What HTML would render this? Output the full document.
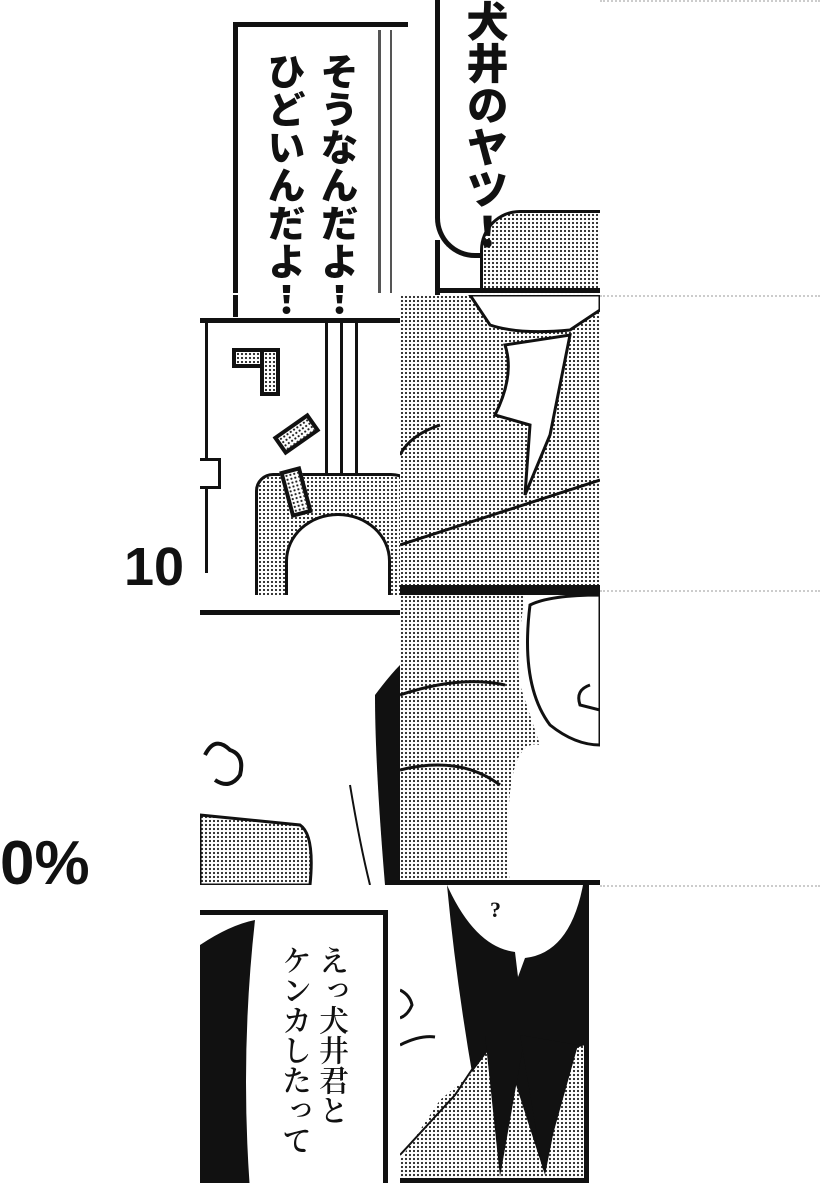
<!DOCTYPE html>
<html><head><meta charset="utf-8"><style>
body{margin:0;width:820px;height:1200px;background:#fff;position:relative;overflow:hidden}
.a{position:absolute}
.t{background-color:#fff;background-image:radial-gradient(#222 0.9px,transparent 1.3px);background-size:4px 4px}
.v{position:absolute;writing-mode:vertical-rl;font-family:"Liberation Sans","Noto Sans CJK JP",sans-serif;font-weight:900;color:#111;line-height:1}
</style></head><body>
<svg width="0" height="0" style="position:absolute"><defs>
<pattern id="dt" width="4" height="4" patternUnits="userSpaceOnUse"><rect width="4" height="4" fill="#fff"/><circle cx="2" cy="2" r="1.1" fill="#222"/></pattern>
</defs></svg>
<div class="a" style="left:600px;top:0;width:220px;height:2px;border-top:2px dotted #ccc"></div>
<div class="a" style="left:600px;top:295px;width:220px;height:2px;border-top:2px dotted #ccc"></div>
<div class="a" style="left:600px;top:590px;width:220px;height:2px;border-top:2px dotted #ccc"></div>
<div class="a" style="left:600px;top:885px;width:220px;height:2px;border-top:2px dotted #ccc"></div>

<!-- Row1 left -->
<div class="a" style="left:233px;top:22px;width:170px;height:290px;border-left:5px solid #111;border-top:5px solid #111"></div>
<div class="a" style="left:378px;top:30px;width:3px;height:265px;background:#555"></div>
<div class="a" style="left:390px;top:30px;width:2px;height:265px;background:#555"></div>
<div class="v" style="left:316px;top:52px;font-size:38px">そうなんだよ！</div>
<div class="v" style="left:263px;top:52px;font-size:38px">ひどいんだよ！</div>
<div class="a" style="left:200px;top:293px;width:200px;height:2px;background:#fff"></div>

<!-- Row1 right -->
<div class="a" style="left:400px;top:0;width:200px;height:295px;overflow:hidden">
 <div class="a t" style="left:80px;top:190px;width:130px;height:110px"></div>
 <div class="a" style="left:35px;top:-10px;width:200px;height:258px;background:#fff;border:5px solid #111;border-right:none;border-radius:0 0 0 40px"></div>
 <div class="a t" style="left:80px;top:210px;width:120px;height:80px;border-radius:40px 0 0 0;border-top:3px solid #111;border-left:3px solid #111"></div>
 <div class="a" style="left:35px;top:240px;width:5px;height:55px;background:#111"></div>
 <div class="a" style="left:35px;top:288px;width:165px;height:5px;background:#111"></div>
</div>
<div class="v" style="left:463px;top:0px;font-size:42px">犬井のヤツ！</div>

<!-- Row2 left -->
<div class="a" style="left:200px;top:318px;width:200px;height:272px;overflow:hidden;border-top:5px solid #111">
 <div class="a" style="left:5px;top:0;width:3px;height:250px;background:#111"></div>
 <div class="a" style="left:125px;top:0;width:3px;height:170px;background:#111"></div>
 <div class="a" style="left:140px;top:0;width:3px;height:170px;background:#111"></div>
 <div class="a" style="left:155px;top:0;width:3px;height:175px;background:#111"></div>
 <div class="a" style="left:0;top:135px;width:18px;height:25px;border:3px solid #111;border-left:none;background:#fff"></div>
 <div class="a t" style="left:55px;top:150px;width:160px;height:130px;border:3px solid #111;border-radius:18px 30px 0 0"></div>
 <div class="a" style="left:85px;top:190px;width:100px;height:90px;background:#fff;border:3px solid #111;border-radius:50% 50% 0 0"></div>
 <div class="a t" style="left:32px;top:25px;width:40px;height:12px;border:4px solid #111"></div>
 <div class="a t" style="left:60px;top:25px;width:12px;height:40px;border:4px solid #111"></div>
 <div class="a t" style="left:75px;top:100px;width:35px;height:14px;border:4px solid #111;transform:rotate(-35deg)"></div>
 <div class="a t" style="left:85px;top:145px;width:14px;height:40px;border:4px solid #111;transform:rotate(-15deg)"></div>
</div>
<div class="a" style="left:124px;top:536px;font:bold 54px 'Liberation Sans',sans-serif;color:#111">10</div>

<!-- Row2 right -->
<div class="a t" style="left:400px;top:295px;width:200px;height:290px;overflow:hidden">
 <svg class="a" width="200" height="290" style="left:0;top:0">
  <path d="M70 0 L90 30 Q120 40 170 35 L200 15 L200 0Z" fill="#fff" stroke="#111" stroke-width="3"/>
  <path d="M105 50 Q115 80 95 120 L130 130 L125 200 L150 140 L170 40Z" fill="#fff" stroke="#111" stroke-width="3"/>
  <path d="M0 250 L200 185" stroke="#111" stroke-width="3"/>
  <path d="M0 160 Q10 140 40 130" stroke="#111" stroke-width="3" fill="none"/>
 </svg>
</div>
<div class="a" style="left:400px;top:585px;width:200px;height:5px;background:#111"></div>

<!-- Row3 left -->
<div class="a" style="left:200px;top:610px;width:200px;height:5px;background:#111"></div>
<div class="a" style="left:200px;top:615px;width:200px;height:270px;overflow:hidden">
 <svg class="a" width="200" height="270" style="left:0;top:0">
  <path d="M175 80 Q190 60 200 50 L200 270 L185 270 Q175 150 175 80Z" fill="#111"/>
  <path d="M0 200 L100 210 Q115 220 110 270 L0 270Z" fill="url(#dt)" stroke="#111" stroke-width="3"/>
  <path d="M150 170 Q160 230 170 270" stroke="#111" stroke-width="2" fill="none"/>
  <path d="M5 140 Q15 120 30 135 Q45 140 40 160 Q30 175 15 165" stroke="#111" stroke-width="4" fill="none"/>
 </svg>
</div>
<div class="a" style="left:0;top:828px;font:bold 62px 'Liberation Sans',sans-serif;color:#111">0%</div>

<!-- Row3 right -->
<div class="a" style="left:400px;top:590px;width:200px;height:295px;overflow:hidden;border-top:5px solid #111">
 <svg class="a" width="200" height="295" style="left:0;top:0">
  <rect width="200" height="295" fill="#fff"/>
  <path d="M0 0 L125 0 Q115 60 120 90 L140 150 Q100 140 110 295 L0 295Z" fill="url(#dt)"/>
  <path d="M130 10 Q150 0 200 0 L200 150 Q175 150 150 130 Q120 90 130 10Z" fill="#fff" stroke="#111" stroke-width="3"/>
  <path d="M0 100 Q60 80 105 90" stroke="#111" stroke-width="3" fill="none"/>
  <path d="M0 175 Q60 160 100 190" stroke="#111" stroke-width="3" fill="none"/>
  <path d="M190 90 Q175 95 180 110 L200 115" stroke="#111" stroke-width="3" fill="none"/>
 </svg>
</div>
<div class="a" style="left:400px;top:880px;width:200px;height:5px;background:#111"></div>

<!-- Row4 left -->
<div class="a" style="left:200px;top:910px;width:188px;height:273px;overflow:hidden;border-top:5px solid #111;border-right:5px solid #111;box-sizing:border-box">
 <svg class="a" width="190" height="280" style="left:0;top:0">
  <path d="M0 30 Q30 10 55 5 Q40 140 50 275 L0 275Z" fill="#111"/>
 </svg>
</div>
<div class="v" style="left:315px;top:945px;font-size:30px;font-family:'Liberation Serif','Noto Serif CJK SC',serif;font-weight:600">えっ犬井君と</div>
<div class="v" style="left:278px;top:945px;font-size:30px;font-family:'Liberation Serif','Noto Serif CJK SC',serif;font-weight:600">ケンカしたって</div>

<!-- Row4 right -->
<div class="a" style="left:400px;top:885px;width:188px;height:298px;overflow:hidden;background:#111">
 <svg class="a" width="188" height="298" style="left:0;top:0">
  <path d="M0 0 L47 0 Q60 140 93 298 L0 298Z" fill="#fff"/>
  <path d="M47 0 Q75 62 115 67 L118 92 L125 73 Q170 68 183 0Z" fill="#fff"/>
  <path d="M0 105 Q10 110 12 120 Q8 130 0 133" stroke="#111" stroke-width="3" fill="none"/>
  <path d="M0 160 Q20 150 35 152" stroke="#111" stroke-width="3" fill="none"/>
  <path d="M70 190 L40 215 L0 275 L0 298 L185 298 L185 160 L170 165 L145 290 L100 150Z" fill="url(#dt)"/>
  <path d="M85 150 L125 150 L100 292Z" fill="#111"/>
  <path d="M120 150 L178 160 L143 285Z" fill="#111"/>
  <path d="M75 180 L55 210 L0 270" stroke="#111" stroke-width="2" fill="none"/>
 </svg>
 <div class="a" style="left:90px;top:12px;font:bold 22px 'Liberation Serif',serif;color:#111">?</div>
</div>
<div class="a" style="left:584px;top:885px;width:5px;height:298px;background:#111"></div>
<div class="a" style="left:400px;top:1178px;width:189px;height:5px;background:#111"></div>
</body></html>
